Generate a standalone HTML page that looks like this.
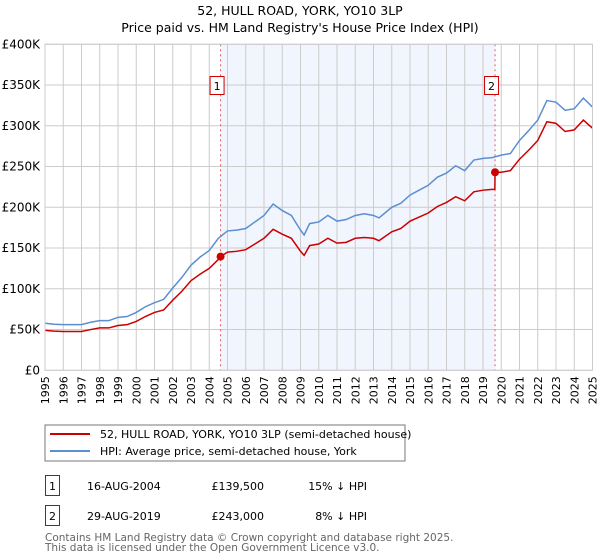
<!DOCTYPE html>
<html><head><meta charset="utf-8"><style>
body{margin:0;background:#fff}
svg{display:block;font-family:"DejaVu Sans","Liberation Sans",sans-serif}
</style></head><body>
<svg id="c" width="600" height="560" viewBox="0 0 600 560">
<text x="300" y="15" text-anchor="middle" font-size="12.5">52, HULL ROAD, YORK, YO10 3LP</text>
<text x="300" y="32" text-anchor="middle" font-size="12.5">Price paid vs. HM Land Registry's House Price Index (HPI)</text>
<g id="plot"></g>
<rect x="45" y="425" width="360" height="36" fill="#fff" stroke="#777"/>
<line x1="50" y1="434" x2="90" y2="434" stroke="#cc0000" stroke-width="2"/>
<text x="100" y="438" font-size="11">52, HULL ROAD, YORK, YO10 3LP (semi-detached house)</text>
<line x1="50" y1="451" x2="90" y2="451" stroke="#5b8fd0" stroke-width="2"/>
<text x="100" y="455" font-size="11">HPI: Average price, semi-detached house, York</text>
<g font-size="11">
<rect x="45.5" y="475.5" width="14" height="20" fill="#fff" stroke="#cc0000"/>
<text x="52.5" y="490" text-anchor="middle">1</text>
<text x="87" y="490">16-AUG-2004</text>
<text x="264" y="490" text-anchor="end">£139,500</text>
<text x="367" y="490" text-anchor="end">15% ↓ HPI</text>
<rect x="45.5" y="505.5" width="14" height="20" fill="#fff" stroke="#cc0000"/>
<text x="52.5" y="520" text-anchor="middle">2</text>
<text x="87" y="520">29-AUG-2019</text>
<text x="264" y="520" text-anchor="end">£243,000</text>
<text x="367" y="520" text-anchor="end">8% ↓ HPI</text>
</g>
<text x="45" y="541" font-size="10.5" fill="#666">Contains HM Land Registry data © Crown copyright and database right 2025.</text>
<text x="45" y="551" font-size="10.5" fill="#666">This data is licensed under the Open Government Licence v3.0.</text>
</svg>
<script>
const hpiYears=[1995,1995.5,1996,1996.5,1997,1997.5,1998,1998.5,1999,1999.5,2000,2000.5,2001,2001.5,2002,2002.5,2003,2003.5,2004,2004.5,2005,2005.5,2006,2006.5,2007,2007.5,2008,2008.5,2009,2009.2,2009.5,2010,2010.5,2011,2011.5,2012,2012.5,2013,2013.3,2014,2014.5,2015,2015.5,2016,2016.5,2017,2017.5,2018,2018.5,2019,2019.5,2020,2020.5,2021,2021.5,2022,2022.5,2023,2023.5,2024,2024.5,2025];
const hpiValues=[57.7,56.5,56,56,56,59,61,61,65,66,71,78,83,87,101,114,129,139,147,162,171,172,174,182,190,204,196,190,172,166,180,182,190,183,185,190,192,190,187,200,205,215,221,227,237,242,251,245,258,260,261,264,266,282,294,307,331,329,319,321,334,323];
const priceYears=[1995,1995.5,1996,1996.5,1997,1997.5,1998,1998.5,1999,1999.5,2000,2000.5,2001,2001.5,2002,2002.5,2003,2003.5,2004,2004.5,2004.62,2005,2005.5,2006,2006.5,2007,2007.5,2008,2008.5,2009,2009.2,2009.5,2010,2010.5,2011,2011.5,2012,2012.5,2013,2013.3,2014,2014.5,2015,2015.5,2016,2016.5,2017,2017.5,2018,2018.5,2019,2019.5,2019.65,2019.66,2020,2020.5,2021,2021.5,2022,2022.5,2023,2023.5,2024,2024.5,2025];
const priceValues=[49,48,47.6,47.6,47.6,50,52,52,55,56,60,66,71,74,86,97,110,118,125,136,139.5,145,146,148,155,162,173,167,162,146,141,153,155,162,156,157,162,163,162,159,170,174,183,188,193,201,206,213,208,219,221,222,222,243,243,245,259,270,282,305,303,293,295,307,297];
const saleYears=[2004.62,2019.66];
const saleValues=[139.5,243];
const saleLabels=["1","2"];
const yTicks=[0,50,100,150,200,250,300,350,400];
const yTickLabels=["£0","£50K","£100K","£150K","£200K","£250K","£300K","£350K","£400K"];
const xTicks=[];for(let y=1995;y<=2025;y++)xTicks.push(y);

const L=45,R=592.5,T=44.3,B=370.3;
const xs=v=>L+(v-1995)/30*(R-L);
const ys=v=>B-v/400*(B-T);
const NS="http://www.w3.org/2000/svg";
const g=document.getElementById('plot');
function mk(tag,attrs,parent){const e=document.createElementNS(NS,tag);for(const k in attrs)e.setAttribute(k,attrs[k]);(parent||g).appendChild(e);return e;}

const shade=mk('rect',{x:xs(saleYears[0]),y:T,width:xs(saleYears[1])-xs(saleYears[0]),height:B-T,fill:'#eef3fd',opacity:0.8});


xTicks.forEach(t=>{
  const l=mk('line',{x1:xs(t),x2:xs(t),y1:T,y2:B,stroke:'#ccc','stroke-width':1});
  
  
  const tx=mk('text',{x:0,y:0,'font-size':11,'text-anchor':'end',transform:`translate(${xs(t)+4},${B+6}) rotate(-90)`});
  tx.textContent=t;
  
  
});
yTicks.forEach((t,i)=>{
  const l=mk('line',{x1:L,x2:R,y1:ys(t),y2:ys(t),stroke:'#ccc','stroke-width':1});
  
  
  const tx=mk('text',{x:L-5,y:ys(t)+4,'font-size':12,'text-anchor':'end'});
  tx.textContent=yTickLabels[i];
  
  
});
saleYears.forEach((s,i)=>{
  const l=mk('line',{x1:xs(s),x2:xs(s),y1:T,y2:B,stroke:'#e06060','stroke-dasharray':'2,3','stroke-width':1});
  
  
  const r=mk('rect',{x:xs(s)-10.5,y:76.5,width:14,height:18,fill:'#fff',stroke:'#cc0000'});
  
  
  const t=mk('text',{x:xs(s)-3.5,y:90,'font-size':11,'text-anchor':'middle'});
  t.textContent=saleLabels[i];
  
  
});
const hp=mk('polyline',{points:hpiYears.map((y,i)=>xs(y)+','+ys(hpiValues[i])).join(' '),fill:'none',stroke:'#5b8fd0','stroke-width':1.5});


const pp=mk('polyline',{points:priceYears.map((y,i)=>xs(y)+','+ys(priceValues[i])).join(' '),fill:'none',stroke:'#cc0000','stroke-width':1.5});


saleYears.forEach((s,i)=>{
  const c=mk('circle',{cx:xs(s),cy:ys(saleValues[i]),r:4,fill:'#cc0000'});
  
  
});
const fr=mk('rect',{x:L,y:T,width:R-L,height:B-T,fill:'none',stroke:'#ccc'});


</script>
</body></html>
